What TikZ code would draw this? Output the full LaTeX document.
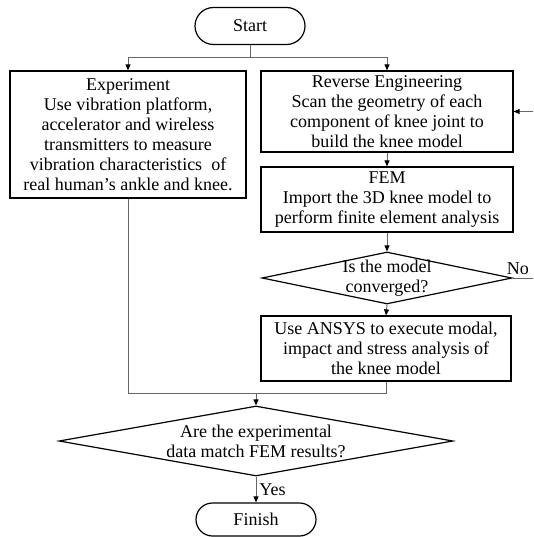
\documentclass[tikz,border=0pt]{standalone}
\usepackage{fontspec}
\setmainfont{Liberation Serif}
\usetikzlibrary{shapes.geometric,shapes.misc,arrows.meta}
\begin{document}
\begin{tikzpicture}[x=1pt,y=-1pt,
	font=\fontsize{18}{20}\selectfont,
	box/.style={draw,line width=1.2pt,align=center,inner sep=0pt,minimum width=252pt},
	terminal/.style={draw,line width=1.2pt,rounded rectangle,inner sep=0pt},
	decision/.style={draw,line width=1.2pt,diamond,inner sep=0pt},
	link/.style={draw=\LINKCOLOR,line width=0.9pt},
	arr/.style={link,-{Triangle[black,length=6pt,width=5pt]}}]

\def\LINKCOLOR{black!60}
	\useasboundingbox (0,0) rectangle (533,537);

	\node[terminal,minimum width=110pt,minimum height=37pt] (start) at (250,26) {Start};
	\node[box,minimum width=236pt,minimum height=127pt] (exp) at (128,134.5) {Experiment\\Use vibration platform,\\accelerator and wireless\\transmitters to measure\\vibration characteristics\ \ of\\real human’s ankle and knee.};
	\node[box,minimum height=81pt] (rev) at (387,111.5) {Reverse Engineering\\Scan the geometry of each\\component of knee joint to\\build the knee model};
	\node[box,minimum height=65pt] (fem) at (387,199.5) {FEM\\Import the 3D knee model to\\perform finite element analysis};
	\node[decision,minimum width=250pt,minimum height=52pt] (conv) at (387,278) {};
	\node[align=center] (convtext) at (conv) {Is the model\\converged?};
	\node[box,minimum width=250pt,minimum height=65pt] (ansys) at (386,348.5) {Use ANSYS to execute modal,\\impact and stress analysis of\\the knee model};
	\node[decision,minimum width=394pt,minimum height=70pt] (match) at (256,441) {};
	\node[align=center] (matchtext) at (match) {Are the experimental\\data match FEM results?};
	\node[terminal,minimum width=120pt,minimum height=33pt] (finish) at (256,519.5) {Finish};

	\coordinate (split) at (250,57);
	\coordinate (merge) at (256,393);
	\coordinate (noend) at (533,278);
	\coordinate (backin) at (533,111.5);

	\draw[link] (start.south) -- (split);
	\draw[arr] (split) -| (exp.north);
	\draw[arr] (split) -| (rev.north);
	\draw[arr] (rev.south) -- (fem.north);
	\draw[arr] (fem.south) -- (conv.north);
	\draw[arr] (conv.south) -- (ansys.north);
	\draw[link] (conv.east) -- node[above,inner sep=3pt,xshift=-5pt] (no) {No} (noend);
	\draw[arr] (backin) -- (rev.east);
	\draw[link] (exp.south) |- (merge);
	\draw[link] (ansys.south) |- (merge);
	\draw[arr] (merge) -- (match.north);
	\draw[arr] (match.south) -- node[right,inner sep=3pt] (yes) {Yes} (finish.north);

\end{tikzpicture}
\end{document}
